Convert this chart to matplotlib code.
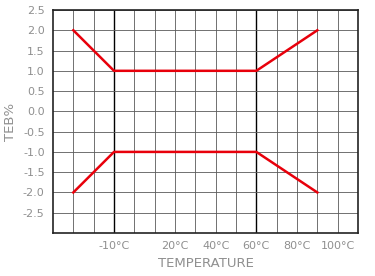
import matplotlib.pyplot as plt
import numpy as np

# Data
temp = [-30, -10, 60, 90]
upper = [2.0, 1.0, 1.0, 2.0]
lower = [-2.0, -1.0, -1.0, -2.0]

xtick_vals = [-10, 20, 40, 60, 80, 100]
xtick_labels = ['-10°C', '20°C', '40°C', '60°C', '80°C', '100°C']
ytick_vals = [-2.5, -2.0, -1.5, -1.0, -0.5, 0.0, 0.5, 1.0, 1.5, 2.0, 2.5]

label_color = '#8f8f8f'
grid_color = '#5a5a5a'

fig = plt.figure(figsize=(3.75, 2.76), dpi=100)
ax = fig.add_axes([0.1413, 0.1558, 0.8134, 0.808])

# Grid every 10 degrees / 0.5 units
for x in np.arange(-30, 110, 10):
    if x in (-10, 60):
        ax.axvline(x, color='black', linewidth=1.0, zorder=1)
    else:
        ax.axvline(x, color=grid_color, linewidth=0.6, zorder=1)
for y in np.arange(-2.5, 2.6, 0.5):
    ax.axhline(y, color=grid_color, linewidth=0.6, zorder=1)

ax.plot(temp, upper, color='#e8000b', linewidth=1.8, zorder=3)
ax.plot(temp, lower, color='#e8000b', linewidth=1.8, zorder=3)

ax.set_xlim(-40, 110)
ax.set_ylim(-3.0, 2.5)

ax.set_xticks(xtick_vals)
ax.set_xticklabels(xtick_labels)
ax.set_yticks(ytick_vals)
ax.set_yticklabels(['%.1f' % v for v in ytick_vals])
ax.tick_params(length=0, colors=label_color, labelsize=8, pad=6)

for s in ax.spines.values():
    s.set_color('#222222')
    s.set_linewidth(1.2)

ax.set_xlabel('TEMPERATURE', color=label_color, fontsize=9.5, labelpad=4)
ax.set_ylabel('TEB%', color=label_color, fontsize=9.5, labelpad=4)

fig.savefig('out.png', dpi=100)
